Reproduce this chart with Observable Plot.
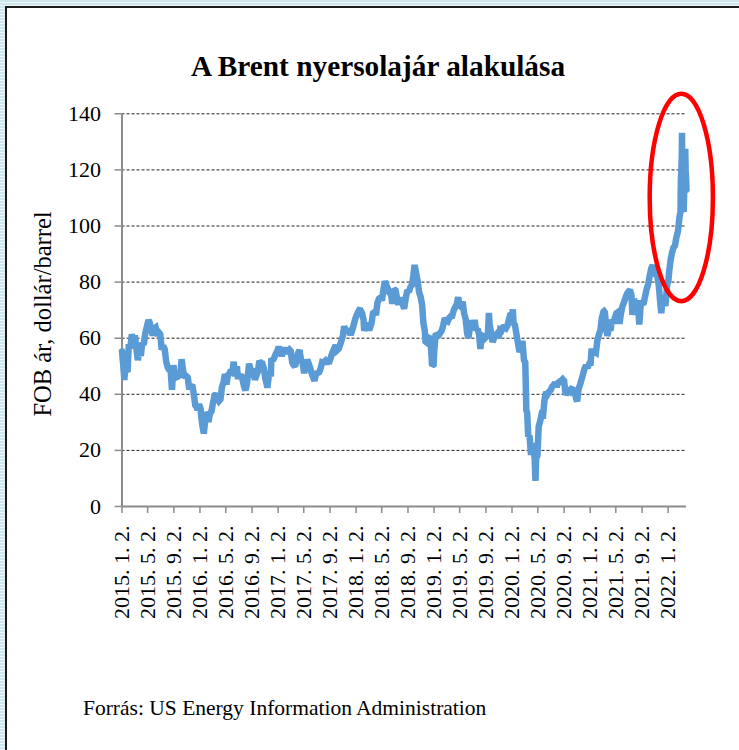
<!DOCTYPE html>
<html>
<head>
<meta charset="utf-8">
<script src="https://cdn.jsdelivr.net/npm/d3@7"></script>
<script src="https://cdn.jsdelivr.net/npm/@observablehq/plot@0.6"></script>
<style>
html,body{margin:0;padding:0;}
body{width:739px;height:750px;overflow:hidden;position:relative;
  background:repeating-linear-gradient(to bottom,#cde5ec 0px,#cde5ec 2px,#eef7fa 2px,#eef7fa 3px);}
#panel{position:absolute;left:5px;top:6px;width:780px;height:790px;background:#fff;
  border-left:2px solid #1a1a1a;border-top:2px solid #1a1a1a;}
.t{position:absolute;white-space:nowrap;font-family:"Liberation Serif","Times New Roman",serif;color:#000;line-height:1;}
#title{left:378px;top:52px;transform:translateX(-50%);font-size:29.3px;font-weight:bold;}
#ylabel{left:43px;top:314px;transform:translate(-50%,-50%) rotate(-90deg);font-size:24.5px;}
#caption{left:83px;top:698px;font-size:21.5px;}
#chart{position:absolute;left:0;top:0;}
</style>
</head>
<body>
<div id="panel"></div>
<div id="chart"></div>
<div class="t" id="title">A Brent nyersolajár alakulása</div>
<div class="t" id="ylabel">FOB ár, dollár/barrel</div>
<div class="t" id="caption">Forrás: US Energy Information Administration</div>
<script>
// Brent FOB price, USD/barrel
const brent2015 = [["01-02",55.3],["01-07",51.1],["01-13",45.1],["01-16",48.5],["01-22",48.5],["01-28",48.0],["02-03",57.9],["02-10",56.4],["02-17",61.4],["02-24",59.1],["03-03",61.0],["03-10",56.6],["03-17",52.2],["03-24",55.3],["03-31",53.7],["04-07",58.4],["04-14",57.6],["04-21",61.7],["04-28",64.0],["05-06",66.5],["05-12",65.4],["05-19",63.0],["05-26",61.0],["06-02",63.4],["06-09",63.8],["06-16",61.9],["06-23",62.1],["06-30",61.4],["07-07",55.9],["07-14",57.3],["07-21",56.1],["07-28",51.6],["08-04",49.6],["08-11",48.7],["08-18",48.3],["08-24",41.6],["08-31",50.4],["09-04",47.5],["09-11",46.0],["09-18",46.2],["09-25",46.6],["10-02",46.8],["10-08",52.5],["10-16",48.0],["10-23",46.6],["10-30",46.5],["11-06",46.0],["11-13",41.8],["11-20",42.8],["11-27",43.4],["12-04",40.1],["12-11",36.1],["12-18",35.4],["12-22",34.4],["12-29",36.5]];
const brent2016 = [["01-05",34.8],["01-08",32.0],["01-13",29.1],["01-20",26.0],["01-25",29.5],["01-29",33.6],["02-05",32.5],["02-11",30.1],["02-18",33.2],["02-25",33.9],["03-03",36.9],["03-10",39.5],["03-17",40.2],["03-24",38.5],["03-31",37.6],["04-07",38.2],["04-14",42.6],["04-21",44.1],["04-28",47.2],["05-05",43.5],["05-12",46.9],["05-19",47.3],["05-26",48.7],["06-02",48.0],["06-08",51.6],["06-16",46.4],["06-23",50.0],["06-27",46.4],["07-05",46.4],["07-12",47.0],["07-19",45.3],["07-26",42.9],["08-02",41.4],["08-09",43.7],["08-16",48.8],["08-19",50.9],["08-26",48.9],["09-02",46.0],["09-08",49.2],["09-15",45.2],["09-22",46.6],["09-29",48.1],["10-06",51.9],["10-13",51.2],["10-20",51.0],["10-27",49.3],["11-03",45.7],["11-10",43.3],["11-14",43.3],["11-22",48.2],["11-29",46.4],["12-01",52.8],["12-08",52.0],["12-15",53.1],["12-22",54.4],["12-29",55.4]];
const brent2017 = [["01-05",56.9],["01-12",55.5],["01-19",53.6],["01-26",55.4],["02-02",56.6],["02-09",54.5],["02-16",55.6],["02-23",56.0],["03-02",55.4],["03-09",51.3],["03-14",50.6],["03-22",49.9],["03-29",51.9],["04-05",54.6],["04-12",55.8],["04-19",52.3],["04-26",51.5],["05-04",47.5],["05-11",50.5],["05-18",52.3],["05-25",51.0],["06-01",49.4],["06-08",47.4],["06-15",46.1],["06-21",44.8],["06-29",47.4],["07-06",47.6],["07-13",47.9],["07-20",49.2],["07-27",51.5],["08-03",51.4],["08-10",51.9],["08-17",50.9],["08-24",52.0],["08-31",51.9],["09-07",53.4],["09-14",55.1],["09-21",56.2],["09-28",57.5],["10-05",55.7],["10-12",56.2],["10-19",57.6],["10-26",59.3],["11-02",61.1],["11-07",64.3],["11-15",61.9],["11-22",62.6],["11-30",62.7],["12-07",61.2],["12-14",62.6],["12-21",64.6],["12-28",66.6]];
const brent2018 = [["01-04",68.1],["01-11",69.3],["01-16",70.0],["01-23",69.9],["01-30",68.9],["02-06",66.6],["02-09",62.6],["02-15",64.3],["02-22",65.4],["03-01",63.6],["03-08",63.6],["03-15",65.2],["03-22",68.9],["03-29",69.3],["04-05",68.2],["04-12",72.6],["04-19",74.1],["04-26",74.5],["05-03",73.4],["05-10",77.4],["05-17",80.3],["05-24",78.9],["05-31",77.6],["06-07",76.2],["06-14",75.9],["06-21",72.3],["06-28",77.5],["07-05",77.1],["07-12",74.6],["07-19",71.9],["07-26",74.5],["08-02",72.9],["08-09",72.1],["08-15",70.5],["08-23",74.5],["08-30",77.1],["09-06",76.5],["09-13",78.2],["09-20",78.9],["09-27",82.2],["10-03",86.1],["10-10",83.2],["10-17",80.5],["10-24",76.4],["10-31",74.8],["11-07",72.0],["11-13",65.5],["11-20",62.5],["11-23",58.8],["11-30",58.4],["12-06",60.2],["12-13",60.7],["12-19",56.3],["12-24",50.2],["12-31",50.6]];
const brent2019 = [["01-03",55.6],["01-10",61.7],["01-17",61.2],["01-24",61.1],["01-31",61.9],["02-07",62.7],["02-14",64.6],["02-21",67.1],["02-28",66.3],["03-07",66.0],["03-14",67.2],["03-21",67.8],["03-28",67.9],["04-04",69.9],["04-11",71.1],["04-18",72.0],["04-25",74.6],["05-02",71.6],["05-09",71.2],["05-16",73.0],["05-23",68.8],["05-30",66.9],["06-06",61.7],["06-12",60.1],["06-20",64.2],["06-27",66.4],["07-04",63.3],["07-11",66.5],["07-18",62.8],["07-25",63.4],["08-01",61.2],["08-07",56.2],["08-14",61.0],["08-21",60.7],["08-28",60.0],["09-04",60.6],["09-11",61.6],["09-16",69.0],["09-19",64.8],["09-26",62.1],["10-03",58.6],["10-10",60.0],["10-17",61.0],["10-24",61.6],["10-31",60.0],["11-07",63.0],["11-14",62.7],["11-21",63.9],["11-28",64.0],["12-05",63.6],["12-12",64.5],["12-19",66.7],["12-27",68.9]];
const brent2020 = [["01-02",67.1],["01-06",70.3],["01-09",65.4],["01-16",64.6],["01-23",61.3],["01-30",58.3],["02-06",55.1],["02-13",56.2],["02-20",59.1],["02-27",52.2],["03-04",51.4],["03-06",45.3],["03-09",34.4],["03-13",33.4],["03-18",24.9],["03-24",25.3],["03-31",18.4],["04-07",22.6],["04-14",19.0],["04-17",17.2],["04-21",9.1],["04-24",17.3],["04-30",18.1],["05-06",28.6],["05-13",30.4],["05-20",33.0],["05-27",32.8],["06-03",38.6],["06-10",40.8],["06-17",40.1],["06-24",41.0],["07-01",41.5],["07-08",42.8],["07-15",43.2],["07-22",44.2],["07-29",42.6],["08-05",44.1],["08-12",44.5],["08-19",44.9],["08-26",45.4],["09-02",44.8],["09-09",39.8],["09-16",40.8],["09-23",41.3],["09-30",40.9],["10-07",41.9],["10-14",41.7],["10-21",41.3],["10-28",38.5],["11-02",37.5],["11-09",42.0],["11-16",43.5],["11-23",45.4],["11-30",47.3],["12-07",49.2],["12-14",50.3],["12-21",49.5],["12-29",51.0]];
const brent2021 = [["01-04",51.1],["01-08",55.3],["01-15",55.3],["01-22",55.4],["01-29",55.0],["02-05",59.3],["02-12",61.3],["02-19",62.8],["02-25",67.0],["03-05",69.4],["03-08",69.6],["03-12",69.2],["03-18",64.0],["03-23",60.8],["03-31",63.5],["04-07",62.7],["04-14",66.6],["04-21",65.3],["04-28",67.3],["05-05",68.9],["05-12",69.3],["05-19",65.1],["05-26",68.8],["06-02",71.4],["06-09",72.7],["06-16",74.4],["06-23",75.8],["06-30",76.6],["07-07",77.2],["07-14",75.5],["07-19",68.3],["07-26",73.9],["08-02",72.4],["08-09",69.0],["08-16",69.5],["08-20",64.9],["08-27",72.5],["09-03",72.5],["09-10",72.7],["09-17",75.3],["09-24",77.7],["10-01",79.3],["10-08",82.4],["10-15",84.9],["10-22",86.0],["10-29",83.7],["11-05",82.7],["11-12",82.3],["11-19",79.0],["11-26",72.7],["12-01",68.9],["12-08",75.4],["12-15",73.2],["12-20",71.5],["12-29",79.4]];
const brent2022 = [["01-03",80.3],["01-07",83.8],["01-14",88.1],["01-20",90.4],["01-27",92.3],["02-03",93.0],["02-10",96.1],["02-17",98.1],["02-24",103.1],["03-01",105.0],["03-02",112.9],["03-03",117.5],["03-04",118.0],["03-07",125.0],["03-08",133.2],["03-09",114.0],["03-10",119.0],["03-11",112.0],["03-14",106.0],["03-16",105.0],["03-18",112.0],["03-21",120.0],["03-23",127.5],["03-24",124.0],["03-25",120.0],["03-28",115.0],["03-29",113.0]];

const years = [2015, 2016, 2017, 2018, 2019, 2020, 2021, 2022];
const series = [brent2015, brent2016, brent2017, brent2018, brent2019, brent2020, brent2021, brent2022];

const xDomain = ["2015-01-02", "2022-03-29"];
const xTickDates = ["2015-01-02","2015-05-02","2015-09-02","2016-01-02","2016-05-02","2016-09-02","2017-01-02","2017-05-02","2017-09-02","2018-01-02","2018-05-02","2018-09-02","2019-01-02","2019-05-02","2019-09-02","2020-01-02","2020-05-02","2020-09-02","2021-01-02","2021-05-02","2021-09-02","2022-01-02"];
const xTickLabels = ["2015. 1. 2.","2015. 5. 2.","2015. 9. 2.","2016. 1. 2.","2016. 5. 2.","2016. 9. 2.","2017. 1. 2.","2017. 5. 2.","2017. 9. 2.","2018. 1. 2.","2018. 5. 2.","2018. 9. 2.","2019. 1. 2.","2019. 5. 2.","2019. 9. 2.","2020. 1. 2.","2020. 5. 2.","2020. 9. 2.","2021. 1. 2.","2021. 5. 2.","2021. 9. 2.","2022. 1. 2."];
const yTicks = [0, 20, 40, 60, 80, 100, 120, 140];
const gridValues = [20, 40, 60, 80, 100, 120, 140];

// highlight ellipse annotation (center in data space, half-sizes in days / dollars)
const ellipseCenter = {date: "2022-03-07", price: 110};
const ellipseHalfDays = 148;
const ellipseHalfPrice = 37;

const utc = s => new Date(s + "T00:00:00Z");
const data = [];
series.forEach((arr, i) => arr.forEach(([md, v]) => data.push({date: utc(years[i] + "-" + md), price: v})));

const axisColor = "#8c8c8c";
const chart = Plot.plot({
  width: 739,
  height: 640,
  marginTop: 113.3,
  marginBottom: 134,
  marginLeft: 121.5,
  marginRight: 53,
  style: {fontFamily: '"Liberation Serif","Times New Roman",serif', fontSize: "22px", color: "#000", background: "transparent", overflow: "visible"},
  x: {type: "utc", domain: xDomain.map(utc)},
  y: {domain: [0, 140]},
  marks: [
    Plot.ruleY(gridValues, {stroke: "#222", strokeWidth: 1, strokeDasharray: "3,2"}),
    Plot.axisY({ticks: yTicks, tickSize: 7, tickPadding: 14, stroke: axisColor, strokeWidth: 1.5, label: null, fontSize: 22}),
    Plot.axisX({ticks: xTickDates.map(utc), tickFormat: (d, i) => xTickLabels[i], tickRotate: -90, tickSize: 7, tickPadding: 12, stroke: axisColor, strokeWidth: 1.5, label: null, fontSize: 22}),
    Plot.ruleX([utc(xDomain[0])], {stroke: axisColor, strokeWidth: 2}),
    Plot.ruleY([0], {stroke: axisColor, strokeWidth: 2}),
    Plot.line(data, {x: "date", y: "price", stroke: "#5b9bd5", strokeWidth: 6.5, strokeLinejoin: "miter", strokeMiterlimit: 2})
  ]
});
document.getElementById("chart").appendChild(chart);

const sx = chart.scale("x"), sy = chart.scale("y");
const cDate = utc(ellipseCenter.date);
const cx = sx.apply(cDate), cy = sy.apply(ellipseCenter.price);
const rx = sx.apply(new Date(+cDate + ellipseHalfDays * 864e5)) - cx;
const ry = sy.apply(ellipseCenter.price - ellipseHalfPrice) - cy;
d3.select(chart).append("ellipse")
  .attr("cx", cx).attr("cy", cy).attr("rx", rx).attr("ry", ry)
  .attr("fill", "none").attr("stroke", "#ff0000").attr("stroke-width", 4.5);
</script>
</body>
</html>
